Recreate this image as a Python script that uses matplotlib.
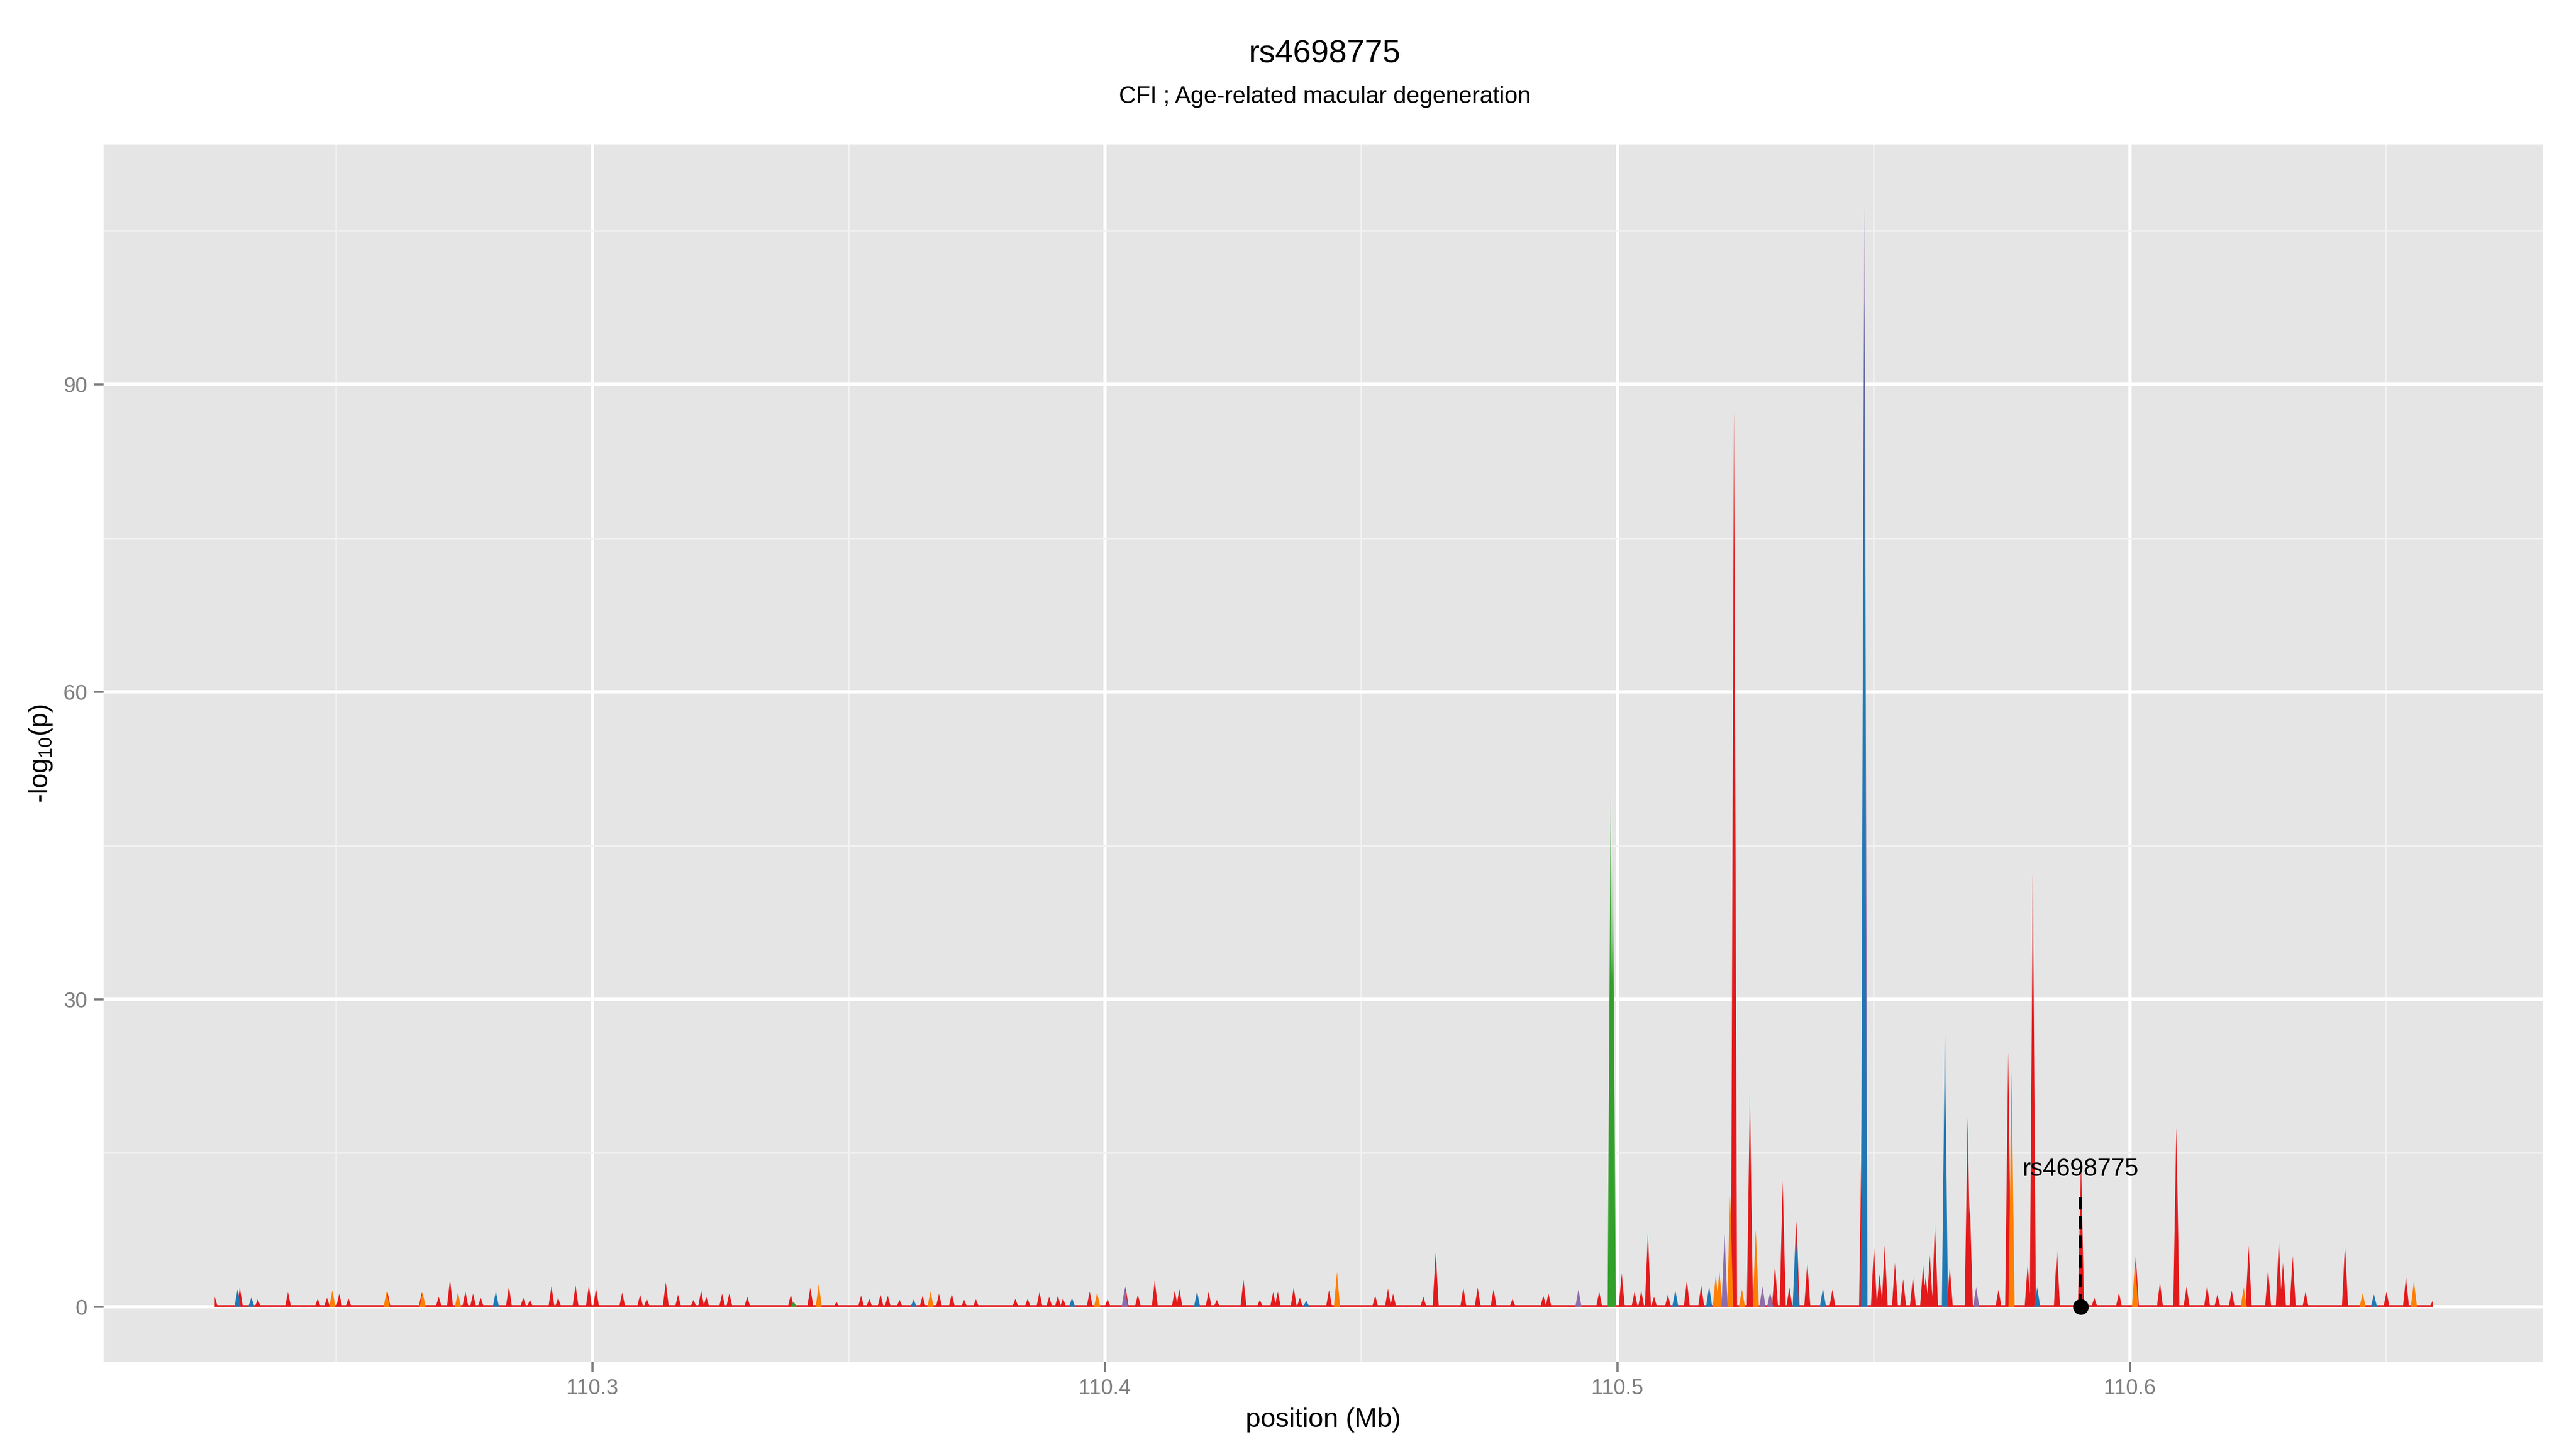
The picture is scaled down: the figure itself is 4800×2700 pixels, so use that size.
import numpy as np
import matplotlib
matplotlib.use("Agg")
import matplotlib.pyplot as plt

plt.rcParams['font.family'] = ['Liberation Sans', 'DejaVu Sans']
plt.rcParams['mathtext.default'] = 'regular'

# peaks: position (Mb) and -log10(p)
red_pos = [110.2263, 110.2312, 110.2347, 110.2406, 110.2464, 110.2482, 110.2506, 110.2524,
           110.2600, 110.2667, 110.2700, 110.2722, 110.2752, 110.2767, 110.2782, 110.2837,
           110.2865, 110.2878, 110.2920, 110.2933, 110.2967, 110.2993, 110.3007, 110.3058,
           110.3093, 110.3106, 110.3143, 110.3167, 110.3197, 110.3212, 110.3222, 110.3253,
           110.3267, 110.3302, 110.3387, 110.3425, 110.3476, 110.3524, 110.3540, 110.3562,
           110.3576, 110.3599, 110.3644, 110.3676, 110.3701, 110.3725, 110.3748, 110.3825,
           110.3849, 110.3872, 110.3891, 110.3908, 110.3918, 110.3970, 110.4005, 110.4040,
           110.4064, 110.4097, 110.4136, 110.4145, 110.4202, 110.4218, 110.4270, 110.4302,
           110.4328, 110.4337, 110.4368, 110.4380, 110.4437, 110.4527, 110.4552, 110.4562,
           110.4621, 110.4645, 110.4699, 110.4727, 110.4758, 110.4795, 110.4855, 110.4865,
           110.4964, 110.5008, 110.5033, 110.5046, 110.5059, 110.5071, 110.5098, 110.5135,
           110.5163, 110.5227, 110.5258, 110.5307, 110.5322, 110.5335, 110.5349, 110.5370,
           110.5419, 110.5477, 110.5500, 110.5511, 110.5521, 110.5541, 110.5557, 110.5576,
           110.5596, 110.5601, 110.5609, 110.5619, 110.5648, 110.5683, 110.5687, 110.5743,
           110.5762, 110.5800, 110.5810, 110.5857, 110.5904, 110.5930, 110.5978, 110.6011,
           110.6058, 110.6090, 110.6110, 110.6150, 110.6170, 110.6198, 110.6231, 110.6269,
           110.6290, 110.6298, 110.6317, 110.6342, 110.6419, 110.6500, 110.6538, 110.6590]
red_val = [1.0, 1.9, 0.75, 1.45, 0.8, 0.9, 1.3, 0.85,
           1.5, 1.45, 1.0, 2.7, 1.5, 1.3, 0.9, 2.0,
           0.9, 0.7, 2.0, 0.9, 2.1, 2.1, 1.8, 1.4,
           1.2, 0.8, 2.4, 1.2, 0.7, 1.6, 1.0, 1.3,
           1.35, 1.0, 1.2, 1.9, 0.5, 1.1, 0.8, 1.2,
           1.1, 0.7, 1.1, 1.3, 1.3, 0.7, 0.75, 0.8,
           0.8, 1.45, 1.0, 1.1, 0.85, 1.5, 0.75, 2.0,
           1.2, 2.6, 1.6, 1.75, 1.5, 0.7, 2.7, 0.7,
           1.45, 1.5, 1.9, 0.9, 1.65, 1.1, 1.8, 1.3,
           1.0, 5.35, 1.9, 1.9, 1.75, 0.8, 1.1, 1.3,
           1.5, 3.3, 1.5, 1.6, 7.2, 1.0, 1.2, 2.6,
           2.1, 88.0, 20.9, 4.1, 12.3, 1.9, 8.4, 4.4,
           1.7, 21.0, 6.0, 3.2, 6.0, 4.3, 2.7, 2.9,
           4.1, 3.0, 5.1, 8.1, 3.9, 18.5, 10.5, 1.7,
           25.0, 4.2, 42.5, 5.7, 14.5, 0.9, 1.4, 4.9,
           2.4, 17.6, 2.0, 2.1, 1.2, 1.6, 6.0, 3.7,
           6.5, 4.3, 5.0, 1.5, 6.1, 1.5, 2.9, 0.6]

orange_pos = [110.2493, 110.2599, 110.2669, 110.2738, 110.3442, 110.3660, 110.3985, 110.4453,
              110.5192, 110.5199, 110.5220, 110.5243, 110.5270, 110.5769, 110.6010, 110.6222,
              110.6454, 110.6554]
orange_val = [1.6, 1.5, 1.4, 1.4, 2.2, 1.5, 1.4, 3.4,
              3.1, 3.5, 10.9, 1.7, 7.5, 23.0, 4.5, 1.9,
              1.3, 2.5]

blue_pos = [110.2308, 110.2335, 110.2812, 110.3627, 110.3936, 110.4180, 110.4393, 110.5113,
            110.5179, 110.5348, 110.5401, 110.5481, 110.5639, 110.5819, 110.6476]
blue_val = [1.7, 0.9, 1.5, 0.7, 0.85, 1.5, 0.6, 1.6,
            2.0, 7.5, 1.8, 99.0, 26.7, 1.9, 1.2]

purple_pos = [110.4039, 110.4924, 110.5209, 110.5283, 110.5298, 110.5482, 110.5700]
purple_val = [1.9, 1.7, 7.1, 2.0, 1.4, 108.0, 1.9]

green_pos = [110.3393, 110.4987, 110.4991]
green_val = [0.5, 50.5, 45.0]

red_floor = 0.18

snp_name = "rs4698775"
snp_pos = 110.5904
snp_label_y = 13.4
snp_line_top = 10.7

title = "rs4698775"
subtitle = "CFI ; Age-related macular degeneration"

x_ticks = [110.3, 110.4, 110.5, 110.6]
x_minor = [110.25, 110.35, 110.45, 110.55, 110.65]
y_ticks = [0, 30, 60, 90]
y_minor = [15, 45, 75, 105]

colors = {"red": "#E31A1C", "orange": "#FF7F00", "blue": "#1F78B4",
          "purple": "#8E6BAA", "green": "#33A02C"}

# build spike profiles on a fine grid
all_pos = red_pos + orange_pos + blue_pos + purple_pos + green_pos
x0, x1 = min(all_pos), max(all_pos)
grid = np.linspace(x0, x1, 30000)
hw = 0.0006


def profile(pos, val):
    y = np.zeros_like(grid)
    for p, v in zip(pos, val):
        y = np.maximum(y, v * np.clip(1 - np.abs(grid - p) / hw, 0, None))
    return y


fig = plt.figure(figsize=(16, 9), dpi=300)
ax = fig.add_axes([0.0402, 0.060, 0.9471, 0.8402])
ax.set_facecolor("#E5E5E5")
for s in ax.spines.values():
    s.set_visible(False)

ax.set_xticks(x_ticks)
ax.set_xticks(x_minor, minor=True)
ax.set_yticks(y_ticks)
ax.set_yticks(y_minor, minor=True)
ax.grid(which="major", color="white", lw=1.45, zorder=0)
ax.grid(which="minor", color="#F2F2F2", lw=0.7, zorder=0)
ax.set_axisbelow(True)
ax.tick_params(which="major", length=4.3, width=1.0, color="#7F7F7F",
               labelcolor="#7F7F7F", labelsize=9.6, pad=3)
ax.tick_params(which="minor", length=0)
ax.set_xticklabels([f"{v:.1f}" for v in x_ticks])

ymax = max(max(red_val), max(blue_val), max(purple_val), max(green_val), max(orange_val))
span = x1 - x0
ax.set_xlim(x0 - 0.05 * span, x1 + 0.05 * span)
ax.set_ylim(-0.05 * ymax, ymax * 1.05)

red_y = np.maximum(profile(red_pos, red_val), red_floor)
ax.fill_between(grid, 0, red_y, color=colors["red"], lw=0, zorder=2)
for name, pos, val in [("orange", orange_pos, orange_val),
                       ("purple", purple_pos, purple_val),
                       ("blue", blue_pos, blue_val),
                       ("green", green_pos, green_val)]:
    yy = profile(pos, val)
    ax.fill_between(grid, 0, yy, where=yy > 0, color=colors[name], lw=0, zorder=3)

ax.plot([snp_pos, snp_pos], [0, snp_line_top], color="black", lw=1.45,
        ls=(0, (4, 2)), zorder=5)
ax.scatter([snp_pos], [0], s=36, color="black", zorder=6)
ax.text(snp_pos, snp_label_y, snp_name, ha="center", va="center", fontsize=11, zorder=6)

ax.set_xlabel("position (Mb)", fontsize=12, labelpad=4)
ax.set_ylabel("-log$_{10}$(p)", fontsize=12, labelpad=4)

fig.text(0.5144, 0.9625, title, ha="center", va="center", fontsize=14.4)
fig.text(0.5144, 0.933, subtitle, ha="center", va="center", fontsize=10.5)

fig.savefig("out.png", dpi=300)
